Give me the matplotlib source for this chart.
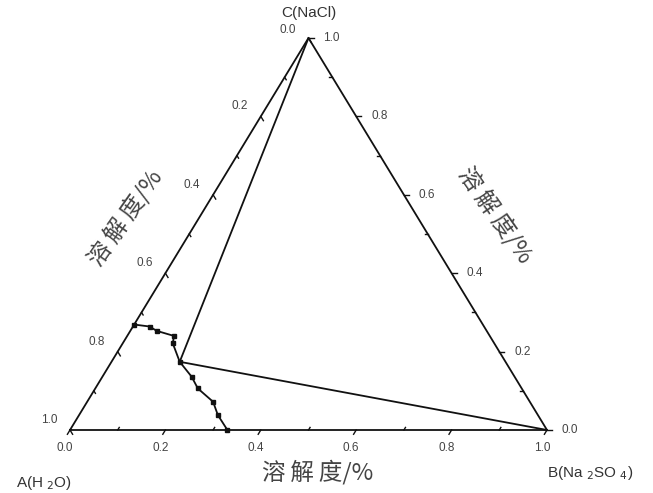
import numpy as np
import matplotlib
matplotlib.use("Agg")
import matplotlib.pyplot as plt

# ---- data (mass fractions) ----
na2so4 = [0.0, 0.035, 0.055, 0.098, 0.105, 0.143, 0.187, 0.215, 0.264, 0.291, 0.330]
nacl = [0.269, 0.264, 0.253, 0.240, 0.221, 0.174, 0.136, 0.106, 0.072, 0.038, 0.0]
invariant_idx = 5
tick_vals = [0.0, 0.2, 0.4, 0.6, 0.8, 1.0]
tick_labels = ["0.0", "0.2", "0.4", "0.6", "0.8", "1.0"]
minor_vals = [0.1, 0.3, 0.5, 0.7, 0.9]
vertex_labels = ["A(H $_2$O)", "B(Na $_2$SO $_4$)", "C(NaCl)"]
axis_title = "溶\u2009解\u2009度/%"

W, H = 653, 493
fig = plt.figure(figsize=(W / 100, H / 100), dpi=100)
# triangle pixel geometry
Ax, Ay = 70, 430
Bx = 547
Cy = 38
aw, ah = Bx - Ax, Ay - Cy
ax = fig.add_axes([Ax / W, (H - Ay) / H, aw / W, ah / H])
ax.set_xlim(0, 1)
ax.set_ylim(0, 1)
ax.axis("off")


def tern(b, c):
    b = np.asarray(b, float)
    c = np.asarray(c, float)
    return b + c / 2.0, c


def px(dx, dy):
    # pixel offset -> data offset (dy positive up)
    return dx / aw, dy / ah


lc = "#111111"
lw = 1.3
A = np.array([0.0, 0.0])
B = np.array([1.0, 0.0])
C = np.array([0.5, 1.0])
ax.plot([A[0], B[0], C[0], A[0]], [A[1], B[1], C[1], A[1]], color=lc, lw=lw,
        clip_on=False, solid_joinstyle="miter")

# tie lines
xi, yi = tern(na2so4[invariant_idx], nacl[invariant_idx])
ax.plot([C[0], xi, B[0]], [C[1], yi, B[1]], color=lc, lw=lw, clip_on=False)

# solubility curve
x, y = tern(na2so4, nacl)
ax.plot(x, y, color=lc, lw=lw, marker="s", ms=2.8, clip_on=False)


def unit_px(p, q):
    d = np.array([(q[0] - p[0]) * aw, (q[1] - p[1]) * ah])
    return d / np.hypot(*d)


tick_col = "#444444"
tfs = 8.5
major_len, minor_len = 5, 3
d_bot = unit_px(C, A)
d_right = unit_px(A, B)
d_left = unit_px(C, B)
for i, (v, lab) in enumerate(zip(tick_vals, tick_labels)):
    # bottom: A (0) -> B (1)
    p = A + v * (B - A)
    ox, oy = px(*(d_bot * major_len))
    ax.plot([p[0], p[0] + ox], [p[1], p[1] + oy], color=lc, lw=1.0, clip_on=False)
    lx, ly = px(-5, -18)
    ax.text(p[0] + lx, p[1] + ly, lab, ha="center", va="center", fontsize=tfs,
            color=tick_col, family="Liberation Sans")
    # right: B (0) -> C (1)
    p = B + v * (C - B)
    ox, oy = px(*(d_right * major_len))
    ax.plot([p[0], p[0] + ox], [p[1], p[1] + oy], color=lc, lw=1.0, clip_on=False)
    lx, ly = px(23, 0)
    ax.text(p[0] + lx, p[1] + ly, lab, ha="center", va="center", fontsize=tfs,
            color=tick_col, family="Liberation Sans")
    # left: C (0) -> A (1)
    p = C + v * (A - C)
    ox, oy = px(*(d_left * major_len))
    ax.plot([p[0], p[0] + ox], [p[1], p[1] + oy], color=lc, lw=1.0, clip_on=False)
    lx, ly = px(-21, 10 if i > 0 else 8)
    ax.text(p[0] + lx, p[1] + ly, lab, ha="center", va="center", fontsize=tfs,
            color=tick_col, family="Liberation Sans")

for v in minor_vals:
    for P, Q, d in [(A, B, -d_bot), (B, C, -d_right), (C, A, d_left)]:
        p = P + v * (Q - P)
        ox, oy = px(*(d * minor_len))
        ax.plot([p[0], p[0] + ox], [p[1], p[1] + oy], color=lc, lw=1.0, clip_on=False)

# vertex labels
txt_col = "#333333"
vfs = 11
fig.text(44 / W, 1 - 483 / H, vertex_labels[0], ha="center", va="center", fontsize=vfs,
         color=txt_col, family="Liberation Sans")
fig.text(590 / W, 1 - 473 / H, vertex_labels[1], ha="center", va="center", fontsize=vfs,
         color=txt_col, family="Liberation Sans")
fig.text(309 / W, 1 - 13 / H, vertex_labels[2], ha="center", va="center", fontsize=vfs,
         color=txt_col, family="Liberation Sans")

# axis titles
cjk = ["Noto Sans CJK SC", "DejaVu Sans"]
fig.text(318 / W, 1 - 472 / H, axis_title, ha="center", va="center", fontsize=17,
         color="#444444", family=cjk)
fig.text(125 / W, 1 - 218 / H, axis_title, ha="center", va="center", fontsize=17,
         color="#444444", family=cjk, rotation=55, rotation_mode="anchor")
fig.text(496 / W, 1 - 215 / H, axis_title, ha="center", va="center", fontsize=17,
         color="#444444", family=cjk, rotation=-55, rotation_mode="anchor")

fig.savefig("out.png", dpi=100, facecolor="white")
